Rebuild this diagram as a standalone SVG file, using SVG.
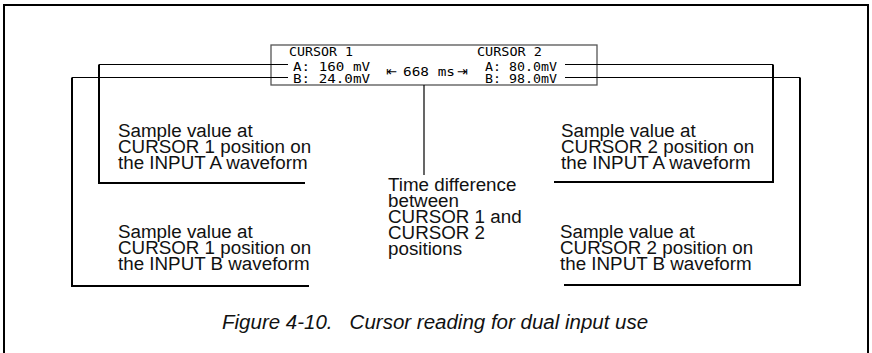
<svg xmlns="http://www.w3.org/2000/svg" width="872" height="353" viewBox="0 0 872 353">
<style>
.frame{fill:none;stroke:#000;stroke-width:2}
.ln{fill:none;stroke:#000;stroke-width:2}
.thin{fill:none;stroke:#000;stroke-width:1.2}
.lbl{font-family:"Liberation Sans",Arial,sans-serif;font-size:18.8px;fill:#111}
.lcd{font-family:"DejaVu Sans Mono","Liberation Mono",monospace;font-size:11.5px;fill:#000}
.arr{font-family:"DejaVu Sans","DejaVu Sans Mono",sans-serif;font-size:13px;fill:#000}
.cap{font-family:"Liberation Sans",Arial,sans-serif;font-size:20.5px;font-style:italic;fill:#111}
</style>
<rect width="872" height="353" fill="#fff"/>
<path class="frame" d="M4,353 V5 H868 V353"/>
<g id="lcd">
<rect x="271" y="45" width="326" height="40" fill="#fff" stroke="#555" stroke-width="1.3"/>
<text class="lcd" x="289" y="56" textLength="64" lengthAdjust="spacingAndGlyphs">CURSOR 1</text>
<text class="lcd" x="293" y="70.5" textLength="77" lengthAdjust="spacingAndGlyphs">A: 160 mV</text>
<text class="lcd" x="293" y="82.5" textLength="77" lengthAdjust="spacingAndGlyphs">B: 24.0mV</text>
<text class="lcd" x="477" y="56" textLength="65" lengthAdjust="spacingAndGlyphs">CURSOR 2</text>
<text class="lcd" x="485" y="70.5" textLength="72" lengthAdjust="spacingAndGlyphs">A: 80.0mV</text>
<text class="lcd" x="485" y="82.5" textLength="72" lengthAdjust="spacingAndGlyphs">B: 98.0mV</text>
<text class="arr" x="386" y="76">⇤</text>
<text class="lcd" x="403" y="76" textLength="52" lengthAdjust="spacingAndGlyphs">668 ms</text>
<text class="arr" x="457" y="76">⇥</text>
</g>
<g id="connectors">
<path class="thin" d="M288,64.5 H99"/>
<path class="ln" d="M99,64.5 V183 H305"/>
<path class="thin" d="M288,77.5 H72"/>
<path class="ln" d="M72,77.5 V286 H309"/>
<path class="thin" d="M565,64.5 H773"/>
<path class="ln" d="M773,64.5 V182 H554"/>
<path class="thin" d="M565,77.5 H800"/>
<path class="ln" d="M800,77.5 V285 H564"/>
<path class="thin" d="M424,85 V175"/>
</g>
<g id="label-c1a">
<text class="lbl" x="118" y="137">Sample value at</text>
<text class="lbl" x="118" y="153">CURSOR 1 position on</text>
<text class="lbl" x="118" y="169">the INPUT A waveform</text>
</g>
<g id="label-c2a">
<text class="lbl" x="561" y="137">Sample value at</text>
<text class="lbl" x="561" y="153">CURSOR 2 position on</text>
<text class="lbl" x="561" y="169">the INPUT A waveform</text>
</g>
<g id="label-c1b">
<text class="lbl" x="118" y="238">Sample value at</text>
<text class="lbl" x="118" y="254">CURSOR 1 position on</text>
<text class="lbl" x="118" y="270">the INPUT B waveform</text>
</g>
<g id="label-c2b">
<text class="lbl" x="560" y="238">Sample value at</text>
<text class="lbl" x="560" y="254">CURSOR 2 position on</text>
<text class="lbl" x="560" y="270">the INPUT B waveform</text>
</g>
<g id="label-time">
<text class="lbl" x="388" y="191">Time difference</text>
<text class="lbl" x="388" y="207">between</text>
<text class="lbl" x="388" y="223">CURSOR 1 and</text>
<text class="lbl" x="388" y="239">CURSOR 2</text>
<text class="lbl" x="388" y="255">positions</text>
</g>
<text class="cap" x="222" y="329" xml:space="preserve">Figure 4-10.   Cursor reading for dual input use</text>
</svg>
